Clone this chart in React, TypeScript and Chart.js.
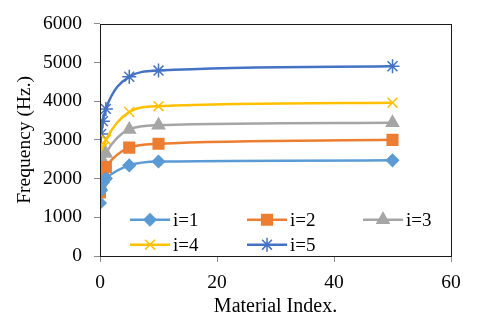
import React, { useEffect, useRef } from 'react';
import { Chart, registerables } from 'chart.js';
import { drawPoint } from 'chart.js/helpers';

Chart.register(...registerables);

const xValues = [0, 0.2, 0.5, 1, 5, 10, 50];
const seriesNames = ['i=1', 'i=2', 'i=3', 'i=4', 'i=5'];
const series1 = [1370, 1700, 1900, 2000, 2340, 2440, 2470];
const series2 = [1640, 1950, 2150, 2300, 2800, 2900, 3000];
const series3 = [1840, 2150, 2450, 2650, 3270, 3380, 3440];
const series4 = [2190, 2550, 2800, 3000, 3720, 3870, 3960];
const series5 = [2680, 3150, 3480, 3800, 4630, 4790, 4900];
const xTicks = [0, 20, 40, 60];
const yTicks = [0, 1000, 2000, 3000, 4000, 5000, 6000];

const colors = ['#5B9BD5', '#ED7D31', '#A5A5A5', '#FFC000', '#4472C4'];
const styles = ['rectRot', 'rect', 'triangle', 'crossRot', 'star'];
const radii = [6, 7.5, 7, 7, 7];

const FONT = '"Liberation Serif", "Times New Roman", serif';

const borderPlugin = {
  id: 'plotBorder',
  afterDraw(chart: any) {
    const { ctx, chartArea } = chart;
    ctx.save();
    ctx.strokeStyle = '#1a1a1a';
    ctx.lineWidth = 1;
    ctx.strokeRect(
      Math.round(chartArea.left) + 0.5,
      Math.round(chartArea.top) + 0.5,
      Math.round(chartArea.right - chartArea.left),
      Math.round(chartArea.bottom - chartArea.top)
    );
    ctx.restore();
  },
};

const legendPlugin = {
  id: 'insideLegend',
  afterDraw(chart: any) {
    const { ctx, chartArea } = chart;
    const colX = [chartArea.left + 30, chartArea.left + 147, chartArea.left + 263];
    const rowY = [chartArea.top + 196, chartArea.top + 221];
    ctx.save();
    chart.data.datasets.forEach((ds: any, i: number) => {
      const x = colX[i % 3];
      const y = rowY[Math.floor(i / 3)];
      ctx.strokeStyle = ds.borderColor;
      ctx.lineWidth = 2.5;
      ctx.beginPath();
      ctx.moveTo(x, y);
      ctx.lineTo(x + 40, y);
      ctx.stroke();
      ctx.fillStyle = ds.pointBackgroundColor;
      ctx.strokeStyle = ds.pointBorderColor;
      ctx.lineWidth = ds.pointBorderWidth;
      drawPoint(ctx, { pointStyle: ds.pointStyle, rotation: 0, radius: ds.pointRadius, borderWidth: ds.pointBorderWidth }, x + 20, y);
      ctx.fillStyle = '#000';
      ctx.font = '19px ' + FONT;
      ctx.textBaseline = 'middle';
      ctx.textAlign = 'left';
      ctx.fillText(ds.label, x + 43, y + 1);
    });
    ctx.restore();
  },
};

export default function App() {
  const ref = useRef<HTMLCanvasElement>(null);
  useEffect(() => {
    document.body.style.margin = '0';
    const all = [series1, series2, series3, series4, series5];
    const chart = new Chart(ref.current!, {
      type: 'line',
      data: {
        datasets: all.map((s, i) => ({
          label: seriesNames[i],
          data: s.map((v, j) => ({ x: xValues[j], y: v })),
          borderColor: colors[i],
          backgroundColor: colors[i],
          pointBackgroundColor: colors[i],
          pointBorderColor: colors[i],
          pointBorderWidth: 1.5,
          pointStyle: styles[i] as any,
          pointRadius: radii[i],
          borderWidth: 2.5,
          cubicInterpolationMode: 'monotone' as const,
          fill: false,
        })),
      },
      options: {
        animation: false,
        responsive: false,
        layout: { padding: { left: 0, right: 29, top: 15, bottom: 0 } },
        plugins: { legend: { display: false }, tooltip: { enabled: false } },
        font: { family: FONT },
        scales: {
          x: {
            type: 'linear',
            min: 0,
            max: 60,
            afterBuildTicks: (s: any) => { s.ticks = xTicks.map((v) => ({ value: v })); },
            afterFit: (s: any) => { s.height = 65; },
            ticks: { color: '#000', font: { family: FONT, size: 19.5 }, padding: 9, callback: (v: any) => String(v) },
            grid: { drawOnChartArea: false, drawTicks: true, tickLength: 6, color: '#8c8c8c' },
            border: { display: false },
            title: { display: true, text: 'Material Index.', color: '#000', font: { family: FONT, size: 20 }, padding: { top: 0, bottom: 2 } },
          },
          y: {
            type: 'linear',
            min: 0,
            max: 6000,
            afterBuildTicks: (s: any) => { s.ticks = yTicks.map((v) => ({ value: v })); },
            afterFit: (s: any) => { s.width = 100; },
            ticks: { color: '#000', font: { family: FONT, size: 19.5 }, padding: 12, callback: (v: any) => String(v) },
            grid: { drawOnChartArea: false, drawTicks: true, tickLength: 6, color: '#8c8c8c' },
            border: { display: false },
            title: { display: true, text: 'Frequency (Hz.)', color: '#000', font: { family: FONT, size: 19.5 }, padding: { top: 13, bottom: 0 } },
          },
        },
      },
      plugins: [borderPlugin, legendPlugin],
    });
    return () => chart.destroy();
  }, []);
  return (
    <div style={{ width: 480, height: 321 }}>
      <canvas ref={ref} width={480} height={321} />
    </div>
  );
}
